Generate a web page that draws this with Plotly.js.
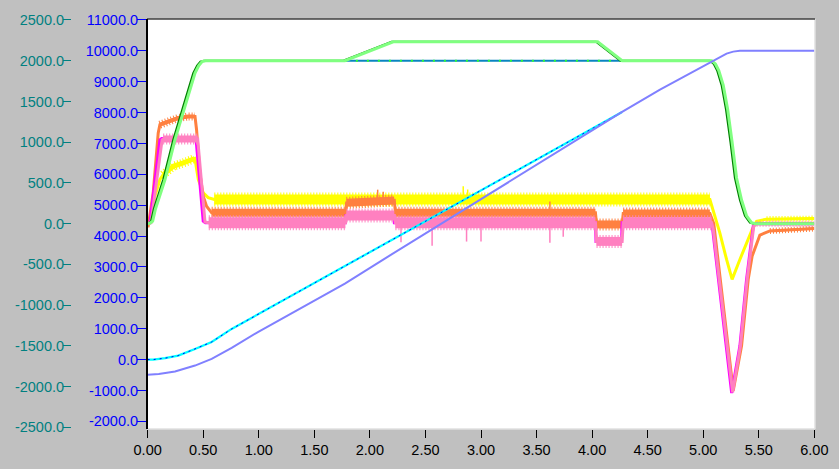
<!DOCTYPE html>
<html>
<head>
<meta charset="utf-8">
<script src="https://cdn.plot.ly/plotly-3.0.1.min.js"></script>
<style>html,body{margin:0;padding:0;background:#c0c0c0;}#chart{width:839px;height:469px;}</style>
</head>
<body>
<div id="chart"></div>
<script>
// ---------- tick labels ----------
const xTickVals = [0, 0.5, 1, 1.5, 2, 2.5, 3, 3.5, 4, 4.5, 5, 5.5, 6];
const xTickText = ["0.00","0.50","1.00","1.50","2.00","2.50","3.00","3.50","4.00","4.50","5.00","5.50","6.00"];
const posTickVals = [-2000,-1000,0,1000,2000,3000,4000,5000,6000,7000,8000,9000,10000,11000];
const posTickText = ["-2000.0","-1000.0","0.0","1000.0","2000.0","3000.0","4000.0","5000.0","6000.0","7000.0","8000.0","9000.0","10000.0","11000.0"];
const velTickVals = [-2500,-2000,-1500,-1000,-500,0,500,1000,1500,2000,2500];
const velTickText = ["-2500.0","-2000.0","-1500.0","-1000.0","-500.0","0.0","500.0","1000.0","1500.0","2000.0","2500.0"];

// ---------- velocity (left teal axis) ----------
const lgT = [0, 0.02, 0.045, 0.07, 0.156, 0.246, 0.336, 0.426, 0.46, 0.49, 0.52, 1.775, 2.21, 4.05, 4.27, 5.076, 5.11, 5.14, 5.18, 5.22, 5.26, 5.30, 5.345, 5.39, 5.435, 5.47, 6.0];
const lgV = [0, 5, 30, 180, 541, 1031, 1439, 1848, 1940, 1990, 2000, 2000, 2233, 2233, 2000, 2000, 1960, 1880, 1700, 1400, 1000, 560, 290, 95, 12, 0, 0];
const dgT = [0, 0.015, 0.03, 0.055, 0.14, 0.23, 0.32, 0.41, 0.445, 0.475, 0.505, 1.76, 2.195, 4.035, 4.255, 5.061, 5.095, 5.125, 5.165, 5.205, 5.245, 5.285, 5.33, 5.375, 5.42, 5.455, 6.0];
const dgV = [0, 5, 30, 180, 541, 1031, 1439, 1848, 1940, 1990, 2000, 2000, 2233, 2233, 2000, 2000, 1960, 1880, 1700, 1400, 1000, 560, 290, 95, 12, 0, 0];
const cmdT = [1.775, 4.27];
const cmdV = [2000, 2000];

// ---------- torque / current signals (left teal axis) ----------
const yelT = [0, 0.03, 0.066, 0.11, 0.14, 0.23, 0.32, 0.40, 0.425, 0.456, 0.50, 0.545, 0.60, 5.06, 5.09, 5.15, 5.21, 5.26, 5.33, 5.39, 5.44, 5.48, 5.57, 6.0];
const yelV = [0, 50, 338, 541, 602, 704, 745, 790, 800, 541, 378, 320, 296, 296, 158, -117, -440, -684, -440, -236, -73, 29, 55, 62];
const orT = [0, 0.005, 0.05, 0.095, 0.11, 0.186, 0.275, 0.365, 0.426, 0.44, 0.47, 0.50, 0.53, 0.576, 1.78, 1.79, 2.22, 2.23, 4.03, 4.04, 4.27, 4.28, 5.06, 5.095, 5.19, 5.27, 5.345, 5.405, 5.44, 5.48, 5.51, 5.6, 6.0];
const orV = [-30, -30, 378, 1113, 1215, 1255, 1296, 1316, 1316, 1153, 623, 337, 214, 133, 133, 255, 285, 133, 133, -10, -10, 125, 125, 0, -1090, -2050, -1500, -684, -400, -260, -140, -90, -60];
const magT = [0, 0.02, 0.11, 0.126, 0.435, 0.50, 0.52, 1.78, 1.785, 2.215, 2.22, 4.03, 4.035, 4.265, 4.27, 5.076, 5.085, 5.175, 5.256, 5.33, 5.39, 5.45, 5.47, 6.0];
const magV = [0, 10, 1030, 1045, 1045, 30, 10, 10, 100, 100, 10, 10, -218, -218, 10, 2, -70, -1090, -2080, -1500, -684, -30, 0, 0];
const pinkT = [0, 0.03, 0.13, 0.14, 0.45, 0.516, 0.55, 1.78, 1.79, 2.22, 2.23, 4.03, 4.04, 4.27, 4.28, 5.076, 5.09, 5.18, 5.265, 5.335, 5.395, 5.455, 5.48, 6.0];
const pinkV = [0, 10, 1030, 1040, 1040, 20, 10, 10, 100, 100, 10, 10, -218, -218, 10, 10, -70, -1090, -2070, -1500, -684, -30, 0, 0];

const yelSpikeT = [2.84, 2.88];
const yelSpikeV = [459, 419];
const orSpikeT = [2.07, 2.12, 3.62];
const orSpikeV = [417, 392, 273];
const pinkSpikeT = [2.28, 2.56, 2.87, 3.0, 3.62, 3.74];
const pinkSpikeV = [-230, -270, -220, -220, -236, -160];

// ---------- position (inner blue axis) ----------
const cyT = [0, 0.05, 0.156, 0.275, 0.426, 0.576, 0.756, 1.884, 3.19, 4.27];
const cyV = [0, 0, 45, 129, 345, 570, 992, 3250, 5840, 8020];
const lavT = [0, 0.1, 0.246, 0.426, 0.576, 0.756, 0.996, 1.775, 2.12, 2.21, 3.28, 4.05, 4.27, 4.611, 5.076, 5.15, 5.21, 5.27, 5.33, 6.0];
const lavV = [-490, -470, -388, -194, 23, 380, 900, 2458, 3240, 3440, 5837, 7556, 8022, 8744, 9655, 9790, 9910, 9975, 10000, 10000];

// ---------- helpers ----------
function interp(ts, vs, t) {
  for (let i = 0; i < ts.length - 1; i++) {
    if (t >= ts[i] && t <= ts[i + 1]) {
      const f = (t - ts[i]) / (ts[i + 1] - ts[i]);
      return vs[i] + f * (vs[i + 1] - vs[i]);
    }
  }
  return vs[vs.length - 1];
}
function line(x, y, color, width, yaxis, dash) {
  return {x: x, y: y, type: 'scatter', mode: 'lines', yaxis: yaxis || 'y',
          line: {color: color, width: width, dash: dash || 'solid'}, hoverinfo: 'skip'};
}
// noisy band: a dashed wider "comb" under a solid core
function bands(ts, vs, windows, color) {
  const out = [];
  windows.forEach(w => {
    const x = [], y = [];
    ts.forEach((t, i) => { if (t >= w[0] - 1e-9 && t <= w[1] + 1e-9) { x.push(t); y.push(vs[i]); } });
    out.push(line(x, y, color, w[2] + 4, 'y', '1px,2px'));
    out.push(line(x, y, color, w[2]));
  });
  return out;
}
function spikes(ts, vs, baseT, baseV, color) {
  const x = [], y = [];
  ts.forEach((t, i) => { x.push(t, t, null); y.push(interp(baseT, baseV, t), vs[i], null); });
  return line(x, y, color, 1.5);
}

const YEL = '#ffff00', ORG = '#ff8040', PINK = '#ff80c0', MAG = '#ff00ff';
const traces = [];
traces.push(line(yelT, yelV, YEL, 3));
traces.push(...bands(yelT, yelV, [[0.14, 0.425, 5], [0.60, 5.06, 10], [5.57, 6.0, 2]], YEL));
traces.push(spikes(yelSpikeT, yelSpikeV, yelT, yelV, YEL));
traces.push(line(orT, orV, ORG, 3));
traces.push(...bands(orT, orV, [[0.11, 0.426, 4], [0.576, 1.78, 8], [1.79, 2.22, 8], [2.23, 4.03, 8], [4.04, 4.27, 8], [4.28, 5.06, 8], [5.6, 6.0, 2]], ORG));
traces.push(spikes(orSpikeT, orSpikeV, orT, orV, ORG));
traces.push(line(magT, magV, MAG, 3));
traces.push(line(pinkT, pinkV, PINK, 3));
traces.push(...bands(pinkT, pinkV, [[0.14, 0.45, 7], [0.55, 1.78, 11], [1.79, 2.22, 10], [2.23, 4.03, 11], [4.04, 4.27, 9], [4.28, 5.076, 11], [5.48, 6.0, 2]], PINK));
traces.push(spikes(pinkSpikeT, pinkSpikeV, pinkT, pinkV, PINK));
traces.push(line(cmdT, cmdV, '#0a84c0', 2));
traces.push(line(cmdT, cmdV, '#30ff30', 2, 'y', '2px,9px'));
traces.push(line(dgT, dgV, '#008000', 2));
traces.push(line(lgT, lgV, '#80ff80', 3));
traces.push(line(cyT, cyV, '#00ffff', 2.2, 'y2'));
traces.push(line(cyT, cyV, '#0000ff', 1, 'y2', '2px,4px'));
traces.push(line(lavT, lavV, '#8080ff', 2, 'y2'));

const FONT = 'Liberation Sans, Arial, sans-serif';
const FS = 14.5;
const layout = {
  width: 839, height: 469,
  paper_bgcolor: '#c0c0c0', plot_bgcolor: '#ffffff',
  margin: {l: 71, r: 24, t: 19, b: 40, pad: 0},
  showlegend: false,
  font: {family: FONT, size: FS},
  xaxis: {
    domain: [76 / 744, 1], range: [-0.006, 6.006], anchor: 'y',
    tickmode: 'array', tickvals: xTickVals, ticktext: xTickText,
    ticks: 'outside', ticklen: 8, tickwidth: 1, tickcolor: '#000000',
    ticklabelstandoff: 0.5,
    tickfont: {family: FONT, size: FS, color: '#000000'},
    showgrid: false, zeroline: false, showline: false, automargin: false
  },
  yaxis: {
    range: [-2521, 2512], anchor: 'free', position: 0, side: 'left',
    tickmode: 'array', tickvals: velTickVals, ticktext: velTickText,
    ticks: 'outside', ticklen: 8, tickwidth: 1, tickcolor: '#008080',
    ticklabelstandoff: -4,
    tickfont: {family: FONT, size: FS, color: '#008080'},
    showgrid: false, zeroline: false, showline: false, automargin: false
  },
  yaxis2: {
    range: [-2249, 11032], anchor: 'x', overlaying: 'y', side: 'left',
    tickmode: 'array', tickvals: posTickVals, ticktext: posTickText,
    ticks: 'outside', ticklen: 9, tickwidth: 1, tickcolor: '#0000ff',
    ticklabelstandoff: -4,
    tickfont: {family: FONT, size: FS, color: '#0000ff'},
    showgrid: false, zeroline: false, showline: false, automargin: false
  },
  shapes: [
    {type: 'line', xref: 'x domain', yref: 'y domain', x0: 0, x1: 1, y0: 0, y1: 0, line: {color: '#e0e0e0', width: 1.5}, layer: 'above'},
    {type: 'line', xref: 'x domain', yref: 'y domain', x0: 1, x1: 1, y0: 0, y1: 1, line: {color: '#e0e0e0', width: 1.5}, layer: 'above'},
    {type: 'line', xref: 'x domain', yref: 'y domain', x0: 0, x1: 1, y0: 1, y1: 1, line: {color: '#404040', width: 1.5}, layer: 'above'},
    {type: 'line', xref: 'x domain', yref: 'y domain', x0: 0, x1: 0, y0: 0, y1: 1, line: {color: '#000000', width: 2}, layer: 'above'}
  ]
};
Plotly.newPlot('chart', traces, layout, {staticPlot: true, displayModeBar: false});
</script>
</body>
</html>
